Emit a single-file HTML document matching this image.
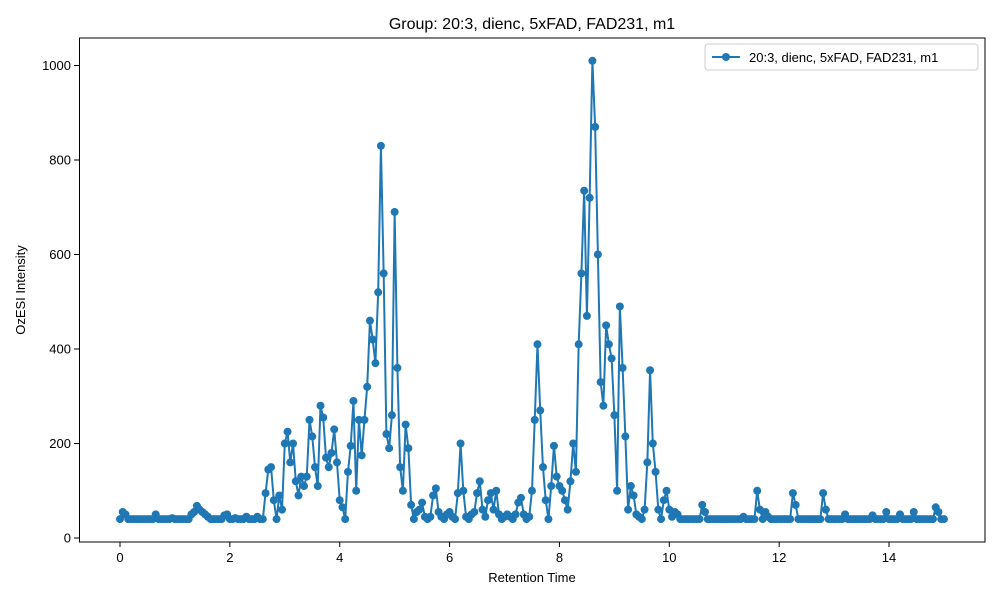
<!DOCTYPE html>
<html><head><meta charset="utf-8"><style>
body{margin:0;background:#fff;}
svg text{font-family:"Liberation Sans","DejaVu Sans",sans-serif;fill:#000;}
</style></head><body>
<svg id="chart" width="1000" height="600" viewBox="0 0 1000 600" xmlns="http://www.w3.org/2000/svg">
<rect x="0" y="0" width="1000" height="600" fill="#fff"/>
<text x="532" y="29" font-size="16" text-anchor="middle">Group: 20:3, dienc, 5xFAD, FAD231, m1</text>
<g id="xticks"></g>
<g id="yticks"></g>
<g id="series"></g>
<rect x="79.5" y="38" width="905.5" height="504" fill="none" stroke="#000" stroke-width="1"/>
<text x="532" y="582" font-size="13" text-anchor="middle">Retention Time</text>
<text x="25" y="290" font-size="13" text-anchor="middle" transform="rotate(-90 25 290)">OzESI Intensity</text>
<g>
<rect x="705" y="44" width="273" height="26" rx="3" fill="#fff" stroke="#ccc"/>
<line x1="712" y1="57" x2="740" y2="57" stroke="#1f77b4" stroke-width="2"/>
<circle cx="726" cy="57" r="4" fill="#1f77b4"/>
<text x="749" y="62" font-size="13">20:3, dienc, 5xFAD, FAD231, m1</text>
</g>
</svg>
<script>
const xTicks=[0,2,4,6,8,10,12,14];
const yTicks=[0,200,400,600,800,1000];
const tStart=0;
const tStep=0.05;
const intensity=[
40,55,50,40,40,40,40,40,40,40,40,40,40,50,40,40,40,40,40,42,
40,40,40,40,40,40,50,55,68,60,55,50,45,40,40,40,40,40,48,50,
40,40,42,40,40,40,45,40,40,40,45,40,40,95,145,150,80,40,90,60,
200,225,160,200,120,90,130,110,130,250,215,150,110,280,255,170,150,180,230,160,
80,65,40,140,195,290,100,250,175,250,320,460,420,370,520,830,560,220,190,260,
690,360,150,100,240,190,70,40,55,60,75,45,40,45,90,105,55,45,40,50,
55,45,40,95,200,100,45,40,50,55,95,120,60,45,80,95,60,100,50,40,
45,50,45,40,50,75,85,50,40,45,100,250,410,270,150,80,40,110,195,130,
110,100,80,60,120,200,140,410,560,735,470,720,1010,870,600,330,280,450,410,380,
260,100,490,360,215,60,110,90,50,45,40,60,160,355,200,140,60,40,80,100,
60,45,55,50,40,40,40,40,40,40,40,40,70,55,40,40,40,40,40,40,
40,40,40,40,40,40,40,45,40,40,40,40,100,60,40,55,45,40,40,40,
40,40,40,40,40,95,70,40,40,40,40,40,40,40,40,40,95,60,40,40,
40,40,40,40,50,40,40,40,40,40,40,40,40,40,48,40,40,40,40,55,
40,40,40,40,50,40,40,40,40,55,40,40,40,40,40,40,40,65,55,40,
40];
const NS="http://www.w3.org/2000/svg";
function xs(t){return 120+t*54.93;}
function ys(v){return 538-v*0.4725;}
const gx=document.getElementById('xticks');
xTicks.forEach(t=>{
  const l=document.createElementNS(NS,'line');
  
  
  l.setAttribute('x1',xs(t));l.setAttribute('x2',xs(t));l.setAttribute('y1',542);l.setAttribute('y2',547);l.setAttribute('stroke','#000');
  gx.appendChild(l);
  const tx=document.createElementNS(NS,'text');
  
  
  tx.setAttribute('x',xs(t));tx.setAttribute('y',562);tx.setAttribute('font-size','13');tx.setAttribute('text-anchor','middle');
  tx.textContent=t;gx.appendChild(tx);
});
const gy=document.getElementById('yticks');
yTicks.forEach(v=>{
  const l=document.createElementNS(NS,'line');
  
  
  l.setAttribute('x1',74);l.setAttribute('x2',79);l.setAttribute('y1',ys(v));l.setAttribute('y2',ys(v));l.setAttribute('stroke','#000');
  gy.appendChild(l);
  const tx=document.createElementNS(NS,'text');
  
  
  tx.setAttribute('x',71);tx.setAttribute('y',ys(v)+4.5);tx.setAttribute('font-size','13');tx.setAttribute('text-anchor','end');
  tx.textContent=v;gy.appendChild(tx);
});
const gs=document.getElementById('series');
let d='';
intensity.forEach((v,i)=>{const t=tStart+i*tStep;d+=(i?'L':'M')+xs(t).toFixed(2)+' '+ys(v).toFixed(2);});
const p=document.createElementNS(NS,'path');


p.setAttribute('d',d);p.setAttribute('fill','none');p.setAttribute('stroke','#1f77b4');p.setAttribute('stroke-width','2');
gs.appendChild(p);
intensity.forEach((v,i)=>{
  const c=document.createElementNS(NS,'circle');
  
  
  c.setAttribute('cx',xs(tStart+i*tStep));c.setAttribute('cy',ys(v));c.setAttribute('r',4);c.setAttribute('fill','#1f77b4');
  gs.appendChild(c);
});
</script>
</body></html>
